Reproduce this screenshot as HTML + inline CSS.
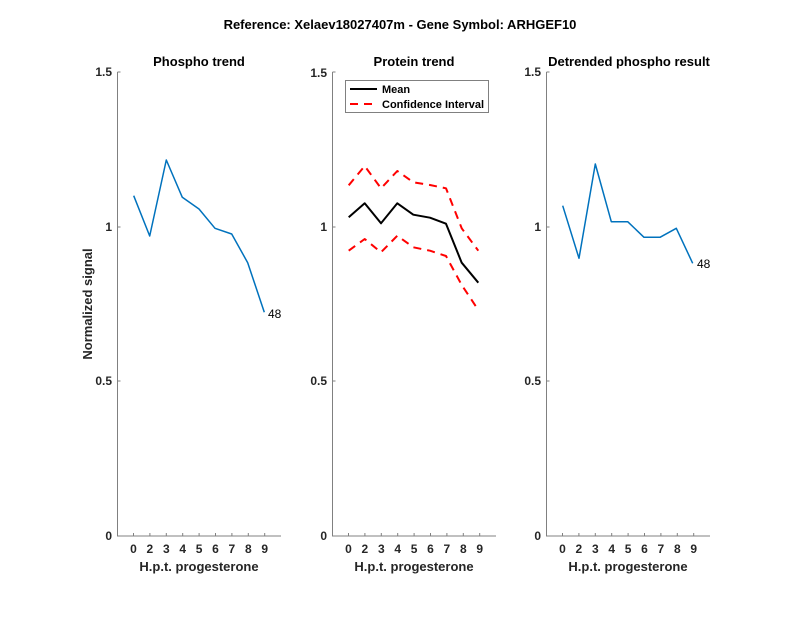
<!DOCTYPE html>
<html><head><style>body{margin:0;background:#fff}svg{display:block}</style></head><body>
<svg width="800" height="618" xmlns="http://www.w3.org/2000/svg" font-family="Liberation Sans, sans-serif">
<rect width="800" height="618" fill="#fff"/>
<text x="400" y="29" text-anchor="middle" font-size="13" font-weight="bold" fill="#000">Reference:  Xelaev18027407m - Gene Symbol:  ARHGEF10</text>
<g fill="#000" font-weight="bold" font-size="13" text-anchor="middle">
<text x="199" y="66">Phospho trend</text>
<text x="414" y="66">Protein trend</text>
<text x="629" y="66">Detrended phospho result</text>
</g>
<g stroke="#808080" stroke-width="1" fill="none">
<path d="M117.5,72 V536 H281 M117.5,72 h3 M117.5,227 h3 M117.5,381 h3"/>
<path d="M332.5,72 V536 H496 M332.5,72 h3 M332.5,227 h3 M332.5,381 h3"/>
<path d="M546.5,72 V536 H710 M546.5,72 h3 M546.5,227 h3 M546.5,381 h3"/>
</g>
<g stroke="#808080" stroke-width="1">
<path d="M133.5,536v-3M149.9,536v-3M166.3,536v-3M182.7,536v-3M199.1,536v-3M215.5,536v-3M231.9,536v-3M248.3,536v-3M264.7,536v-3"/>
<path transform="translate(215,0)" d="M133.5,536v-3M149.9,536v-3M166.3,536v-3M182.7,536v-3M199.1,536v-3M215.5,536v-3M231.9,536v-3M248.3,536v-3M264.7,536v-3"/>
<path transform="translate(429,0)" d="M133.5,536v-3M149.9,536v-3M166.3,536v-3M182.7,536v-3M199.1,536v-3M215.5,536v-3M231.9,536v-3M248.3,536v-3M264.7,536v-3"/>
</g>
<g font-size="12" font-weight="bold" fill="#262626" text-anchor="end">
<text x="112" y="76">1.5</text><text x="112" y="231">1</text><text x="112" y="385">0.5</text><text x="112" y="540">0</text>
<text x="327" y="77">1.5</text><text x="327" y="231">1</text><text x="327" y="385">0.5</text><text x="327" y="540">0</text>
<text x="541" y="76">1.5</text><text x="541" y="231">1</text><text x="541" y="385">0.5</text><text x="541" y="540">0</text>
</g>
<g font-size="12" font-weight="bold" fill="#262626" text-anchor="middle">
<text x="133.5" y="553">0</text><text x="149.9" y="553">2</text><text x="166.3" y="553">3</text><text x="182.7" y="553">4</text><text x="199.1" y="553">5</text><text x="215.5" y="553">6</text><text x="231.9" y="553">7</text><text x="248.3" y="553">8</text><text x="264.7" y="553">9</text>
<text x="348.5" y="553">0</text><text x="364.9" y="553">2</text><text x="381.3" y="553">3</text><text x="397.7" y="553">4</text><text x="414.1" y="553">5</text><text x="430.5" y="553">6</text><text x="446.9" y="553">7</text><text x="463.3" y="553">8</text><text x="479.7" y="553">9</text>
<text x="562.5" y="553">0</text><text x="578.9" y="553">2</text><text x="595.3" y="553">3</text><text x="611.7" y="553">4</text><text x="628.1" y="553">5</text><text x="644.5" y="553">6</text><text x="660.9" y="553">7</text><text x="677.3" y="553">8</text><text x="693.7" y="553">9</text>
</g>
<g font-size="13" font-weight="bold" fill="#262626" text-anchor="middle">
<text x="199" y="571">H.p.t. progesterone</text>
<text x="414" y="571">H.p.t. progesterone</text>
<text x="628" y="571">H.p.t. progesterone</text>
<text transform="translate(92,304) rotate(-90)">Normalized signal</text>
</g>
<g fill="none" stroke-width="1.5" stroke-linejoin="round">
<polyline stroke="#0072BD" points="133.7,195.7 149.7,236 166.3,160 182.3,197.3 199,209 215,228.3 231.7,234 247.7,262.7 264.3,312.3"/>
<polyline stroke="#0072BD" points="562.7,205.7 579,258.3 595.3,164 611.3,221.7 627.7,221.7 644,237.3 660,237.3 676.3,228.3 692.7,263.3"/>
<polyline stroke="#ff0000" stroke-width="2" stroke-dasharray="8,6" points="348.7,185.3 364.7,166 381,188.3 397.3,171 413.3,182.3 430,185 446,188.3 461.7,228.3 478.3,250.7"/>
<polyline stroke="#ff0000" stroke-width="2" stroke-dasharray="8,6" points="348.7,250.7 364.7,239 381,252.3 397.3,235.7 413.3,247.3 430,250.7 446,256 461.7,285 478.3,310"/>
<polyline stroke="#000" stroke-width="2" points="348.7,217.3 364.7,203.3 381,223.3 397.3,203.3 413.3,214.7 430,217.7 446,223.7 461.7,262.7 478.3,282.7"/>
</g>
<g font-size="12" fill="#000"><text x="268" y="318">48</text><text x="697" y="268">48</text></g>
<rect x="345.5" y="80.5" width="143" height="32" fill="#fff" stroke="#808080"/>
<line x1="350" y1="89" x2="377" y2="89" stroke="#000" stroke-width="2"/>
<line x1="350" y1="104" x2="377" y2="104" stroke="#ff0000" stroke-width="2" stroke-dasharray="8,6"/>
<g font-size="11" font-weight="bold" fill="#000"><text x="382" y="93">Mean</text><text x="382" y="108">Confidence Interval</text></g>
</svg>
</body></html>
